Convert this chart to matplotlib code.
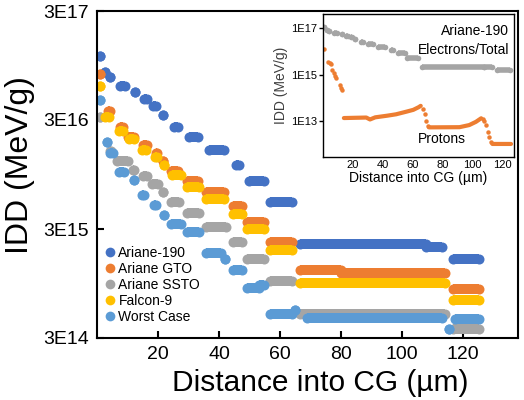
import numpy as np
import matplotlib.pyplot as plt
from matplotlib.ticker import NullLocator

plt.rcParams['font.family'] = ['Liberation Sans', 'DejaVu Sans']

# IDD steps per launch case: step start (um), step end (um), dose (MeV/g)
a190_x0 = [1.0, 2.6, 4.3, 7.6, 12.5, 15.5, 18.5, 21.7, 25.3, 30.3, 36.8, 45.7, 50.0, 56.6, 66.4, 108.0, 116.6]
a190_x1 = [1.0, 2.6, 4.3, 9.2, 12.5, 16.5, 19.5, 21.7, 26.6, 33.2, 41.8, 46.7, 54.9, 63.8, 108.0, 113.2, 125.3]
a190_y = [1.15e17, 8.3e16, 7.5e16, 6.2e16, 5.4e16, 4.7e16, 4.0e16, 3.3e16, 2.6e16, 2.1e16, 1.6e16,
          1.15e16, 8.2e15, 5.3e15, 2.2e15, 2.05e15, 1.6e15]

gto_x0 = [1.0, 3.6, 7.6, 10.2, 15.1, 19.4, 21.7, 24.3, 29.6, 35.9, 44.7, 49.3, 56.6, 66.4, 80.0, 116.6]
gto_x1 = [1.0, 4.3, 8.6, 12.2, 16.4, 19.7, 21.7, 26.6, 33.2, 41.8, 47.4, 54.9, 63.8, 80.0, 114.1, 125.3]
gto_y = [8.0e16, 3.6e16, 2.6e16, 2.1e16, 1.76e16, 1.5e16, 1.25e16, 1.03e16, 8.2e15, 6.5e15, 4.9e15,
         3.5e15, 2.3e15, 1.25e15, 1.18e15, 8.5e14]

ssto_x0 = [1.0, 4.3, 6.6, 11.8, 15.1, 18.1, 21.7, 24.3, 29.6, 35.9, 44.7, 49.3, 56.6, 66.4, 116.6]
ssto_x1 = [1.0, 4.6, 10.2, 12.2, 16.4, 20.1, 21.7, 27.0, 33.6, 42.4, 47.4, 54.9, 63.8, 114.1, 125.3]
ssto_y = [3.2e16, 1.55e16, 1.25e16, 1.05e16, 9.1e15, 7.7e15, 6.5e15, 5.3e15, 4.2e15, 3.1e15, 2.3e15,
          1.6e15, 1.0e15, 5.0e14, 3.6e14]

f9_x0 = [1.0, 2.6, 7.2, 10.5, 14.8, 19.1, 22.0, 24.7, 29.6, 35.9, 44.7, 49.3, 56.6, 66.4, 116.6]
f9_x1 = [1.0, 3.9, 8.6, 12.2, 16.1, 19.7, 22.0, 27.6, 33.6, 41.8, 47.4, 54.9, 63.8, 114.1, 125.3]
f9_y = [6.2e16, 3.2e16, 2.4e16, 2.0e16, 1.58e16, 1.36e16, 1.15e16, 9.3e15, 7.3e15, 5.6e15, 4.1e15,
        3.0e15, 1.92e15, 9.5e14, 6.7e14]

worst_x0 = [1.0, 3.3, 4.3, 7.2, 12.2, 14.8, 18.8, 22.0, 24.3, 29.6, 35.9, 42.0, 44.7, 49.3, 53.0,
            56.6, 65.0, 69.0, 115.5, 117.4]
worst_x1 = [1.0, 3.3, 5.3, 8.9, 12.2, 15.5, 19.4, 22.0, 27.6, 33.6, 40.8, 42.0, 47.4, 53.0, 54.9,
            64.0, 65.0, 113.2, 115.5, 125.3]
worst_y = [4.6e16, 1.9e16, 1.5e16, 9.9e15, 8.5e15, 6.2e15, 5.0e15, 4.0e15, 3.3e15, 2.8e15, 1.8e15,
           1.6e15, 1.25e15, 8.7e14, 9.2e14, 5.0e14, 5.4e14, 4.6e14, 3.6e14, 4.5e14]

names = ['Ariane-190', 'Ariane GTO', 'Ariane SSTO', 'Falcon-9', 'Worst Case']
colors = ['#4472C4', '#ED7D31', '#A5A5A5', '#FFC000', '#5B9BD5']
series = [(a190_x0, a190_x1, a190_y), (gto_x0, gto_x1, gto_y), (ssto_x0, ssto_x1, ssto_y),
          (f9_x0, f9_x1, f9_y), (worst_x0, worst_x1, worst_y)]

# inset: Ariane-190 protons (isolated dots + continuous runs, nan = break)
proton_dot_x = [0.9, 3.1, 4.4, 5.5, 6.2, 7.1, 8.0, 8.9, 11.1, 12.0, 12.9,
                67.1, 68.2, 69.3, 70.3, 107.2, 108.2, 109.3, 110.4, 111.5, 112.7]
proton_dot_y = [1.2e16, 3.5e15, 3.3e15, 2.8e15, 1.6e15, 1.2e15, 8.8e14, 6.9e14, 3.5e14, 2.8e14, 2.2e14,
                3.3e13, 2.0e13, 1.07e13, 6.5e12, 1.2e13, 1.0e13, 6.9e12, 3.6e12, 2.2e12, 1.35e12]
proton_run_x = [14, 29, 31.5, 35, 43, 49, 56, 60.5, 64, 65.5, np.nan,
                71, 91.5, 98, 102.5, 106, np.nan, 113.5, 126]
proton_run_y = [1.38e13, 1.45e13, 1.2e13, 1.48e13, 1.74e13, 2.0e13, 2.6e13, 3.1e13, 4.0e13, 4.6e13, np.nan,
                5.5e12, 5.6e12, 6.9e12, 9.5e12, 1.35e13, np.nan, 1.07e12, 1.07e12]

fig = plt.figure(figsize=(5.24, 4.0), dpi=100)
ax = fig.add_axes([0.185, 0.155, 0.8035, 0.8175])

lw = 7.2
for (x0, x1, y), c, name in zip(series, colors, names):
    for a, b, v in zip(x0, x1, y):
        ax.plot([a, b], [v, v], '-o', color=c, lw=lw, ms=lw, mew=0, solid_capstyle='butt')
    ax.plot([], [], 'o', color=c, ms=7, mew=0, label=name)

ax.set_yscale('log')
ax.set_ylim(3e14, 3e17)
ax.set_xlim(0, 138)
ax.set_yticks([3e14, 3e15, 3e16, 3e17], labels=['3E14', '3E15', '3E16', '3E17'])
ax.yaxis.set_minor_locator(NullLocator())
ax.set_xticks([20, 40, 60, 80, 100, 120])
ax.tick_params(direction='in', length=5, width=1.5, labelsize=14, pad=6)
for s in ax.spines.values():
    s.set_linewidth(1.5)
ax.set_xlabel('Distance into CG (µm)', fontsize=21.5)
ax.set_ylabel('IDD (MeV/g)', fontsize=23)
ax.xaxis.set_label_coords(0.53, -0.095)
ax.yaxis.set_label_coords(-0.148, 0.53)
ax.legend(loc='lower left', bbox_to_anchor=(-0.005, 0.017), frameon=False, fontsize=10,
          handletextpad=0.1, labelspacing=0.15, handlelength=1.0, borderaxespad=0.2)

# inset
ins = fig.add_axes([0.6164, 0.6075, 0.3645, 0.3575])
for a, b, v in zip(a190_x0, a190_x1, a190_y):
    ins.plot([a, b], [v, v], '-o', color='#A5A5A5', lw=4, ms=4, mew=0, solid_capstyle='butt')
ins.plot(proton_run_x, proton_run_y, '-', color='#ED7D31', lw=3, solid_capstyle='round')
ins.plot(proton_dot_x, proton_dot_y, 'o', color='#ED7D31', ms=3.2, mew=0)

ins.set_yscale('log')
ins.set_ylim(10**11.47, 10**17.6)
ins.set_xlim(0, 128)
ins.set_yticks([1e13, 1e15, 1e17], labels=['1E13', '1E15', '1E17'])
ins.yaxis.set_minor_locator(NullLocator())
ins.set_xticks([20, 40, 60, 80, 100, 120])
ins.tick_params(axis='y', direction='out', length=3, width=1, labelsize=8, pad=1.5)
ins.tick_params(axis='x', length=0, labelsize=8, pad=2)
for s in ins.spines.values():
    s.set_linewidth(1)
ins.set_xlabel('Distance into CG (µm)', fontsize=10, labelpad=1)
ins.set_ylabel('IDD (MeV/g)', fontsize=10, color='#404040', labelpad=2)
ins.text(0.974, 0.88, 'Ariane-190', transform=ins.transAxes, ha='right', va='center', fontsize=10)
ins.text(0.974, 0.748, 'Electrons/Total', transform=ins.transAxes, ha='right', va='center', fontsize=10)
ins.text(0.623, 0.126, 'Protons', transform=ins.transAxes, ha='center', va='center', fontsize=10)

fig.savefig('out.png', dpi=100)
